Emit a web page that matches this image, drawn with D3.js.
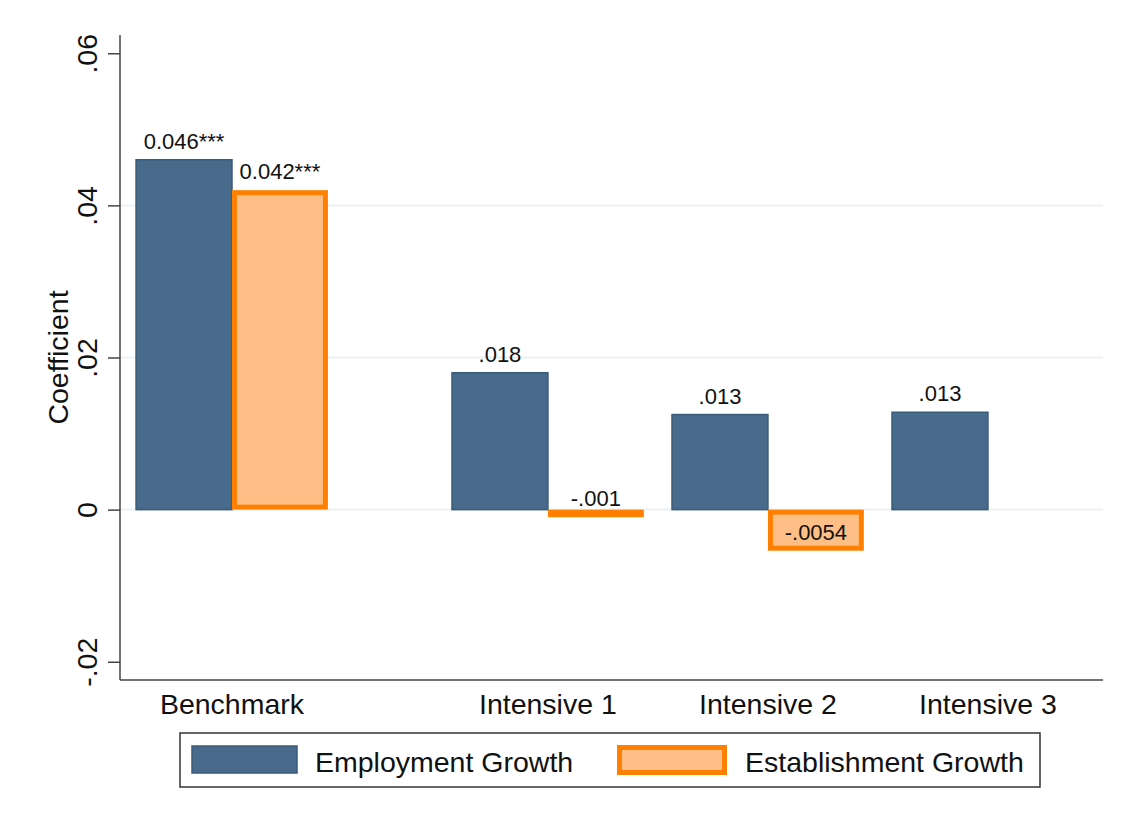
<!DOCTYPE html>
<html>
<head>
<meta charset="utf-8">
<script src="https://cdn.jsdelivr.net/npm/d3@7"></script>
<style>
  body { margin: 0; background: #fff; }
  text { font-family: Arial, "Liberation Sans", sans-serif; fill: #111; }
</style>
</head>
<body>
<div id="content"></div>
<script>
var categories = ['Benchmark', 'Intensive 1', 'Intensive 2', 'Intensive 3'];
var employment = [0.046, 0.018, 0.0125, 0.0128];
var establishment = [0.042, -0.001, -0.0054, null];
var employmentLabels = ['0.046***', '.018', '.013', '.013'];
var establishmentLabels = ['0.042***', '-.001', '-.0054', null];
var yTicks = [-0.02, 0, 0.02, 0.04, 0.06];
var yTickLabels = ['-.02', '0', '.02', '.04', '.06'];
var gridTicks = [0, 0.02, 0.04];
var seriesNames = ['Employment Growth', 'Establishment Growth'];

var width = 1121, height = 818;
var plot = { left: 120, right: 1103, top: 35, bottom: 680 };

var navy = '#486a8b', navyEdge = '#3a5a7a';
var orange = '#ff8000', orangeFill = '#fdbf86';
var bigFont = '28.5px';

// bar width in group units; extra gap of one bar after the benchmark
var barW = 0.436;
function groupPos(i) { return i === 0 ? 0 : i + barW; }

var x = d3.scaleLinear()
    .domain([-0.509, 3.959])
    .range([plot.left, plot.right]);

var y = d3.scaleLinear()
    .domain([-0.0224, 0.0624])
    .range([plot.bottom, plot.top]);

var svg = d3.select('#content').append('svg')
    .attr('width', width)
    .attr('height', height);

// grid
svg.append('g').selectAll('line').data(gridTicks)
    .enter().append('line')
    .attr('x1', plot.left).attr('x2', plot.right)
    .attr('y1', function(d){ return y(d); })
    .attr('y2', function(d){ return y(d); })
    .style('stroke', '#eaf2f3')
    .style('stroke-width', 2);

// employment bars
svg.append('g').selectAll('rect').data(employment)
    .enter().append('rect')
    .attr('x', function(d, i){ return x(groupPos(i) - barW); })
    .attr('width', function(){ return x(barW) - x(0); })
    .attr('y', function(d){ return y(Math.max(0, d)); })
    .attr('height', function(d){ return Math.abs(y(d) - y(0)); })
    .style('fill', navy)
    .style('stroke', navyEdge)
    .style('stroke-width', 1.5);

// establishment bars (thick outline kept inside the bar)
var sw = 5;
var estData = establishment.map(function(d, i){ return { v: d, i: i }; })
    .filter(function(d){ return d.v !== null; });

svg.append('g').selectAll('rect').data(estData)
    .enter().append('rect')
    .attr('x', function(d){ return x(groupPos(d.i)) + sw / 2; })
    .attr('width', function(){ return x(barW) - x(0) - sw; })
    .attr('y', function(d){ return y(Math.max(0, d.v)) + sw / 2; })
    .attr('height', function(d){ return Math.max(0.1, Math.abs(y(d.v) - y(0)) - sw); })
    .style('fill', orangeFill)
    .style('stroke', orange)
    .style('stroke-width', sw);

// bar labels
svg.append('g').selectAll('text').data(employmentLabels)
    .enter().append('text')
    .attr('x', function(d, i){ return x(groupPos(i) - barW / 2); })
    .attr('y', function(d, i){ return y(employment[i]) - 11; })
    .attr('text-anchor', 'middle')
    .style('font-size', '22px')
    .text(function(d){ return d; });

svg.append('g').selectAll('text').data(estData)
    .enter().append('text')
    .attr('x', function(d){ return x(groupPos(d.i) + barW / 2); })
    .attr('y', function(d){ return y(d.v) - 11; })
    .attr('text-anchor', 'middle')
    .style('font-size', '22px')
    .text(function(d){ return establishmentLabels[d.i]; });

// y axis
var yAxis = d3.axisLeft(y)
    .tickValues(yTicks)
    .tickSize(12)
    .tickPadding(10)
    .tickFormat(function(d, i){ return yTickLabels[i]; });

var yGuide = svg.append('g')
    .attr('transform', 'translate(' + plot.left + ',0)');
yAxis(yGuide);
yGuide.select('.domain').remove();
yGuide.selectAll('line').style('stroke', '#444').style('stroke-width', 1.5);
yGuide.selectAll('text')
    .style('font-size', bigFont)
    .attr('text-anchor', 'middle')
    .attr('dy', null)
    .attr('x', 0)
    .attr('y', 0)
    .attr('transform', 'translate(-23,0) rotate(-90)');

svg.append('line')
    .attr('x1', plot.left).attr('x2', plot.left)
    .attr('y1', plot.top).attr('y2', plot.bottom)
    .style('stroke', '#444').style('stroke-width', 1.5);

svg.append('text')
    .attr('transform', 'translate(68,' + ((plot.top + plot.bottom) / 2) + ') rotate(-90)')
    .attr('text-anchor', 'middle')
    .style('font-size', bigFont)
    .text('Coefficient');

// x axis
svg.append('line')
    .attr('x1', plot.left).attr('x2', plot.right)
    .attr('y1', plot.bottom).attr('y2', plot.bottom)
    .style('stroke', '#444').style('stroke-width', 1.5);

svg.append('g').selectAll('text').data(categories)
    .enter().append('text')
    .attr('x', function(d, i){ return x(groupPos(i)); })
    .attr('y', 714)
    .attr('text-anchor', 'middle')
    .style('font-size', bigFont)
    .text(function(d){ return d; });

// legend
var legend = svg.append('g');
legend.append('rect')
    .attr('x', 180).attr('y', 733)
    .attr('width', 860).attr('height', 54)
    .style('fill', '#fff')
    .style('stroke', '#333')
    .style('stroke-width', 1.5);

legend.append('rect')
    .attr('x', 192).attr('y', 746)
    .attr('width', 105).attr('height', 27)
    .style('fill', navy).style('stroke', navyEdge).style('stroke-width', 1.5);

legend.append('rect')
    .attr('x', 617 + sw / 2).attr('y', 745 + sw / 2)
    .attr('width', 110 - sw).attr('height', 30 - sw)
    .style('fill', orangeFill).style('stroke', orange).style('stroke-width', sw);

legend.selectAll('text.lab').data(seriesNames)
    .enter().append('text')
    .attr('x', function(d, i){ return i === 0 ? 315 : 745; })
    .attr('y', 772)
    .style('font-size', bigFont)
    .text(function(d){ return d; });
</script>
</body>
</html>
